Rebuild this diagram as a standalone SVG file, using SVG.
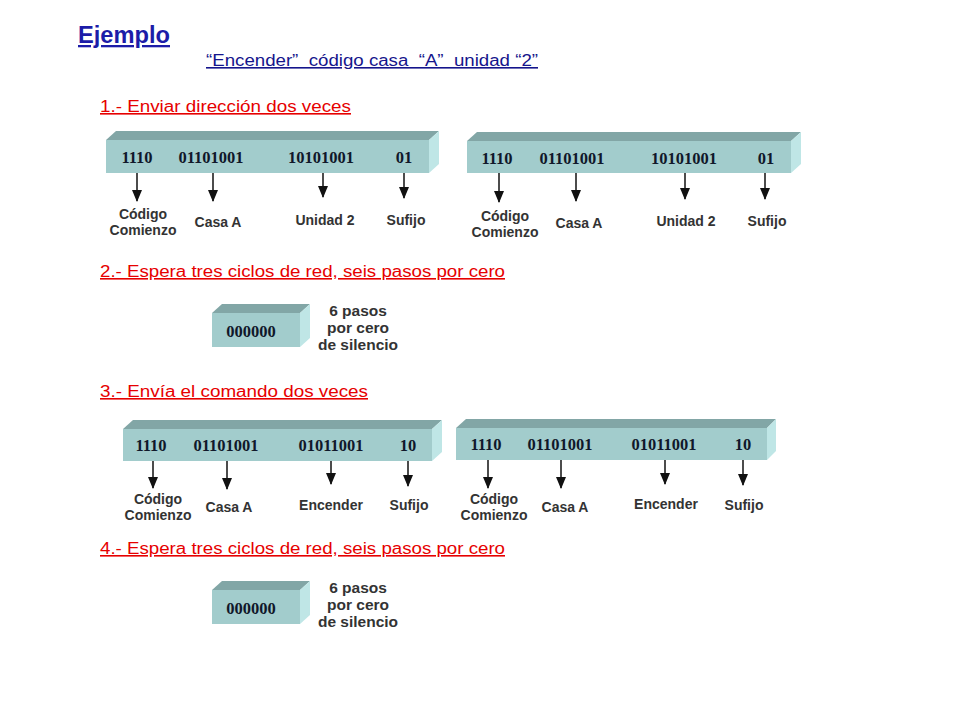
<svg xmlns="http://www.w3.org/2000/svg" width="960" height="720" viewBox="0 0 960 720">
<style>
.front{fill:#a2cccc}
.top{fill:#82a6a6}
.side{fill:#bfe6e6}
.bits{font-family:"Liberation Serif",serif;font-weight:bold;font-size:16.5px;fill:#10182a;text-anchor:middle}
.lbl{font-family:"Liberation Sans",Arial,sans-serif;font-weight:bold;font-size:14px;fill:#333;text-anchor:middle}
.sil{font-size:15.5px}
.red{font-family:"Liberation Sans",Arial,sans-serif;font-size:16px;fill:#e60000;text-decoration:underline}
.conn line{stroke:#111;stroke-width:1.5}
</style>
<defs>
<marker id="ah" markerWidth="12" markerHeight="10" refX="11" refY="5" orient="auto" markerUnits="userSpaceOnUse" viewBox="0 0 12 10">
<path d="M0,0 L12,5 L0,10 Z" fill="#111"/>
</marker>
</defs>
<rect width="960" height="720" fill="#fff"/>

<g id="title">
<text x="78" y="43" font-family="Liberation Sans,Arial,sans-serif" font-weight="bold" font-size="23px" fill="#1c1ca8" text-decoration="underline" textLength="92" lengthAdjust="spacingAndGlyphs">Ejemplo</text>
<text x="206" y="66" font-family="Liberation Sans,Arial,sans-serif" font-size="16px" fill="#15158c" text-decoration="underline" textLength="332" lengthAdjust="spacingAndGlyphs" style="white-space:pre">“Encender”  código casa  “A”  unidad “2”</text>
</g>
<g id="step1"><text class="red" x="100" y="112" textLength="251" lengthAdjust="spacingAndGlyphs">1.- Enviar dirección dos veces</text></g>
<g id="step2"><text class="red" x="100" y="277" textLength="405" lengthAdjust="spacingAndGlyphs">2.- Espera tres ciclos de red, seis pasos por cero</text></g>
<g id="step3"><text class="red" x="100" y="397" textLength="268" lengthAdjust="spacingAndGlyphs">3.- Envía el comando dos veces</text></g>
<g id="step4"><text class="red" x="100" y="554" textLength="405" lengthAdjust="spacingAndGlyphs">4.- Espera tres ciclos de red, seis pasos por cero</text></g>

<g id="bar1">
<polygon class="top" points="106,140 116,131 439,131 429,140"/>
<polygon class="side" points="429,140 439,131 439,164 429,173"/>
<rect class="front" x="106" y="140" width="323" height="33"/>
<text class="bits" x="137" y="163">1110</text>
<text class="bits" x="211" y="163">01101001</text>
<text class="bits" x="321" y="163">10101001</text>
<text class="bits" x="404" y="163">01</text>
</g>
<g id="bar2">
<polygon class="top" points="467,141 477,132 801,132 791,141"/>
<polygon class="side" points="791,141 801,132 801,164 791,173"/>
<rect class="front" x="467" y="141" width="324" height="32"/>
<text class="bits" x="497" y="164">1110</text>
<text class="bits" x="572" y="164">01101001</text>
<text class="bits" x="684" y="164">10101001</text>
<text class="bits" x="766" y="164">01</text>
</g>
<g id="box1">
<polygon class="top" points="212,313 222,304 310,304 300,313"/>
<polygon class="side" points="300,313 310,304 310,338 300,347"/>
<rect class="front" x="212" y="313" width="88" height="34"/>
<text class="bits" x="251" y="337">000000</text>
</g>
<g id="bar3">
<polygon class="top" points="123,429 133,420 442,420 432,429"/>
<polygon class="side" points="432,429 442,420 442,452 432,461"/>
<rect class="front" x="123" y="429" width="309" height="32"/>
<text class="bits" x="151" y="451">1110</text>
<text class="bits" x="226" y="451">01101001</text>
<text class="bits" x="331" y="451">01011001</text>
<text class="bits" x="408" y="451">10</text>
</g>
<g id="bar4">
<polygon class="top" points="456,428 466,419 776,419 767,428"/>
<polygon class="side" points="767,428 776,419 776,451 767,460"/>
<rect class="front" x="456" y="428" width="311" height="32"/>
<text class="bits" x="486" y="450">1110</text>
<text class="bits" x="560" y="450">01101001</text>
<text class="bits" x="664" y="450">01011001</text>
<text class="bits" x="743" y="450">10</text>
</g>
<g id="box2">
<polygon class="top" points="212,590 222,581 310,581 300,590"/>
<polygon class="side" points="300,590 310,581 310,615 300,624"/>
<rect class="front" x="212" y="590" width="88" height="34"/>
<text class="bits" x="251" y="614">000000</text>
</g>

<g id="lbl1a"><text class="lbl" x="143" y="219">Código</text><text class="lbl" x="143" y="235">Comienzo</text></g>
<g id="lbl1b"><text class="lbl" x="218" y="227">Casa A</text></g>
<g id="lbl1c"><text class="lbl" x="325" y="225">Unidad 2</text></g>
<g id="lbl1d"><text class="lbl" x="406" y="225">Sufijo</text></g>
<g id="lbl2a"><text class="lbl" x="505" y="221">Código</text><text class="lbl" x="505" y="237">Comienzo</text></g>
<g id="lbl2b"><text class="lbl" x="579" y="228">Casa A</text></g>
<g id="lbl2c"><text class="lbl" x="686" y="226">Unidad 2</text></g>
<g id="lbl2d"><text class="lbl" x="767" y="226">Sufijo</text></g>
<g id="silence1"><text class="lbl sil" x="358" y="316">6 pasos</text><text class="lbl sil" x="358" y="333">por cero</text><text class="lbl sil" x="358" y="350">de silencio</text></g>
<g id="lbl3a"><text class="lbl" x="158" y="504">Código</text><text class="lbl" x="158" y="520">Comienzo</text></g>
<g id="lbl3b"><text class="lbl" x="229" y="512">Casa A</text></g>
<g id="lbl3c"><text class="lbl" x="331" y="510">Encender</text></g>
<g id="lbl3d"><text class="lbl" x="409" y="510">Sufijo</text></g>
<g id="lbl4a"><text class="lbl" x="494" y="504">Código</text><text class="lbl" x="494" y="520">Comienzo</text></g>
<g id="lbl4b"><text class="lbl" x="565" y="512">Casa A</text></g>
<g id="lbl4c"><text class="lbl" x="666" y="509">Encender</text></g>
<g id="lbl4d"><text class="lbl" x="744" y="510">Sufijo</text></g>
<g id="silence2"><text class="lbl sil" x="358" y="593">6 pasos</text><text class="lbl sil" x="358" y="610">por cero</text><text class="lbl sil" x="358" y="627">de silencio</text></g>

<g id="connectors" class="conn">
<line x1="137" y1="173" x2="137" y2="201" marker-end="url(#ah)"/>
<line x1="213" y1="173" x2="213" y2="201" marker-end="url(#ah)"/>
<line x1="323" y1="173" x2="323" y2="197" marker-end="url(#ah)"/>
<line x1="404" y1="173" x2="404" y2="198" marker-end="url(#ah)"/>
<line x1="499" y1="173" x2="499" y2="202" marker-end="url(#ah)"/>
<line x1="576" y1="173" x2="576" y2="201" marker-end="url(#ah)"/>
<line x1="685" y1="173" x2="685" y2="199" marker-end="url(#ah)"/>
<line x1="765" y1="173" x2="765" y2="199" marker-end="url(#ah)"/>
<line x1="153" y1="461" x2="153" y2="488" marker-end="url(#ah)"/>
<line x1="227" y1="461" x2="227" y2="489" marker-end="url(#ah)"/>
<line x1="331" y1="461" x2="331" y2="484" marker-end="url(#ah)"/>
<line x1="408" y1="461" x2="408" y2="486" marker-end="url(#ah)"/>
<line x1="488" y1="460" x2="488" y2="488" marker-end="url(#ah)"/>
<line x1="561" y1="460" x2="561" y2="488" marker-end="url(#ah)"/>
<line x1="665" y1="460" x2="665" y2="484" marker-end="url(#ah)"/>
<line x1="743" y1="460" x2="743" y2="485" marker-end="url(#ah)"/>
</g>
</svg>
